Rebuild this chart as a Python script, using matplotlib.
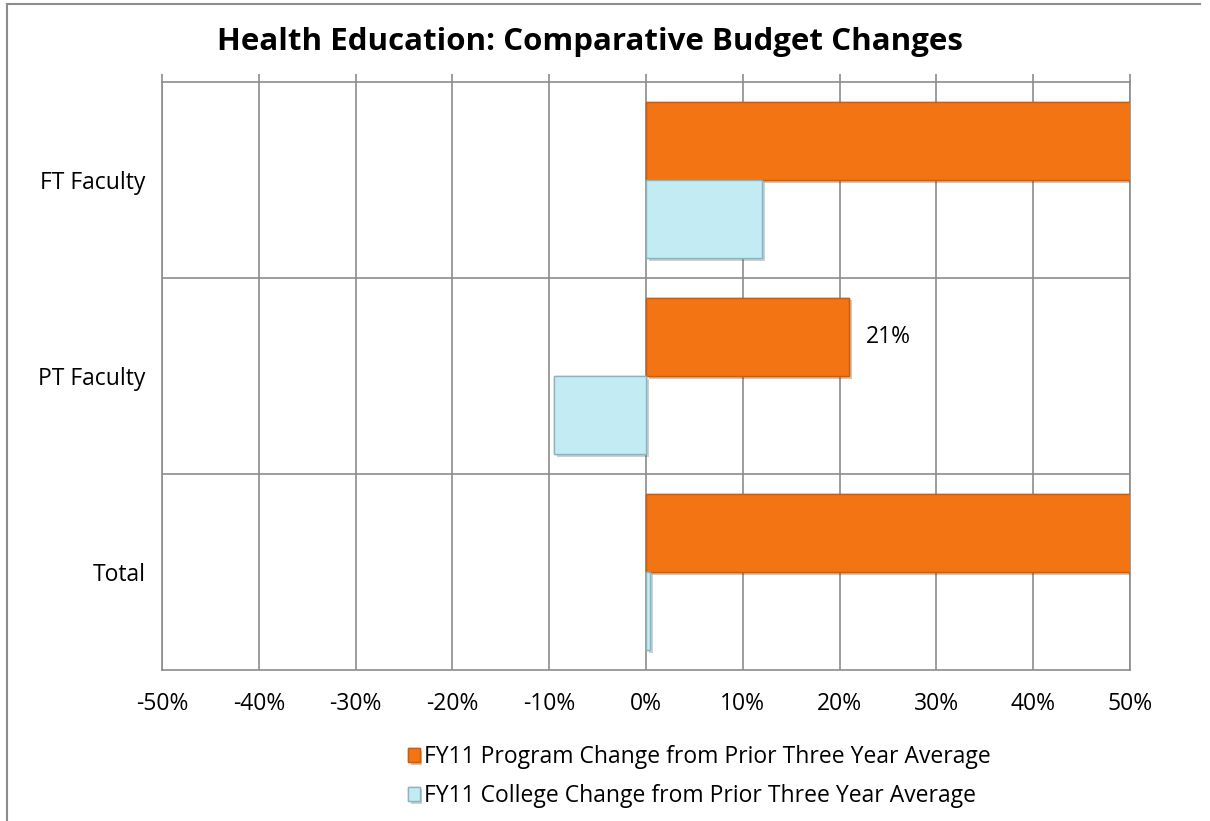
import numpy
from matplotlib import pyplot
from matplotlib.ticker import FuncFormatter
from matplotlib.lines import Line2D
import matplotlib.patheffects as pe

pyplot.rcParams['font.family'] = ['Open Sans', 'DejaVu Sans']

categories = ['FT Faculty', 'PT Faculty', 'Total']
program_change = [0.60, 0.21, 0.56]
college_change = [0.12, -0.095, 0.004]
series_labels = ['FY11 Program Change from Prior Three Year Average',
                 'FY11 College Change from Prior Three Year Average']
xticks = numpy.arange(-0.5, 0.51, 0.1)

ORANGE = '#F27413'
ORANGE_EDGE = '#C75F10'
BLUE = '#C3EBF3'
BLUE_EDGE = '#8DB3BC'
GRID = '#8C8C8C'
FS = 16.5


def _pct_fmt(x, pos=0):
    return '%d%%' % round(100 * x)


fig = pyplot.figure(figsize=(12.1, 8.21), dpi=100)
ax = fig.add_axes([162 / 1210., 1 - 670 / 821., 968 / 1210., 588 / 821.])

ypos = numpy.arange(len(categories))
height = 0.4
shadow = [pe.withSimplePatchShadow(offset=(2, -2), alpha=0.25), pe.Normal()]

b1 = ax.barh(ypos - height / 2, program_change, height=height,
             color=ORANGE, edgecolor=ORANGE_EDGE, linewidth=1.0,
             label=series_labels[0], zorder=3)
b2 = ax.barh(ypos + height / 2, college_change, height=height,
             color=BLUE, edgecolor=BLUE_EDGE, linewidth=1.0,
             label=series_labels[1], zorder=3)
for bar in list(b1) + list(b2):
    bar.set_path_effects(shadow)

# data label only on the PT Faculty program bar
ax.annotate(_pct_fmt(program_change[1]), xy=(program_change[1], ypos[1] - height / 2),
            xytext=(12, 0), textcoords='offset points', va='center', ha='left',
            fontsize=FS, color='black', zorder=4)

ax.set_xlim(-0.5, 0.5)
ax.set_ylim(len(categories) - 0.5, -0.5)
ax.set_xticks(xticks)
ax.xaxis.set_major_formatter(FuncFormatter(_pct_fmt))
ax.set_yticks(ypos)
ax.set_yticklabels(categories)
ax.set_yticks(ypos[:-1] + 0.5, minor=True)

ax.tick_params(axis='x', top=True, bottom=False, labeltop=False, labelbottom=True,
               direction='out', length=6, width=1.2, color=GRID, pad=10, labelsize=FS)
ax.tick_params(axis='y', which='both', left=False, right=False, length=0, pad=12,
               labelsize=FS)

ax.grid(axis='x', which='major', color=GRID, linewidth=1.2, zorder=0)
ax.grid(axis='y', which='minor', color=GRID, linewidth=1.2, zorder=0)
ax.set_axisbelow(True)
for s in ax.spines.values():
    s.set_color(GRID)
    s.set_linewidth(1.2)

fig.text(0.4876, 1 - 42 / 821., 'Health Education: Comparative Budget Changes',
         ha='center', va='center', fontsize=22.5, fontweight='bold')

leg = fig.legend(handles=[b1, b2], loc='upper left',
                 bbox_to_anchor=(399 / 1210., 1 - 736 / 821.),
                 frameon=False, fontsize=FS, handlelength=0.5, handleheight=0.6,
                 handletextpad=0.2, labelspacing=0.65, borderaxespad=0)

# border of the embedded chart frame (top and left edges)
fig.add_artist(Line2D([7 / 1210., 1200 / 1210.], [1 - 4.5 / 821., 1 - 4.5 / 821.],
                      transform=fig.transFigure, color=GRID, linewidth=1.5))
fig.add_artist(Line2D([7 / 1210., 7 / 1210.], [0, 1 - 4.5 / 821.],
                      transform=fig.transFigure, color=GRID, linewidth=1.5))

fig.savefig('out.png', dpi=100)
